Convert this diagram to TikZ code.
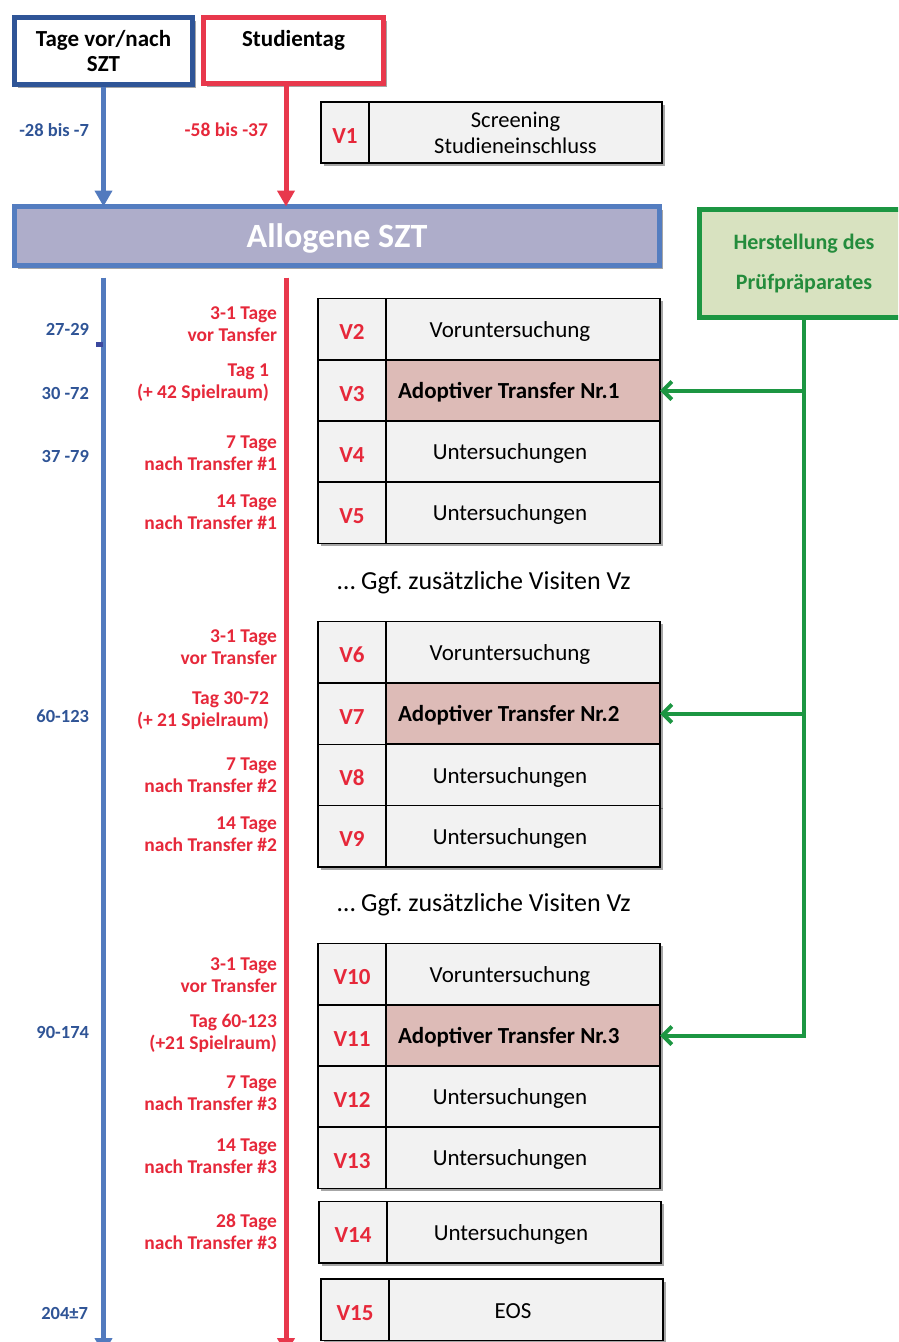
\documentclass[tikz,border=0pt]{standalone}
\usepackage{fontspec}
\setmainfont{Carlito}
\usetikzlibrary{positioning,arrows.meta,shadows}

\definecolor{hdrblue}{RGB}{47,85,151}
\definecolor{lineblue}{RGB}{82,122,190}
\definecolor{txtblue}{RGB}{47,84,150}
\definecolor{tickblue}{RGB}{59,72,158}
\definecolor{szred}{RGB}{232,56,76}
\definecolor{txtred}{RGB}{230,40,58}
\definecolor{allofill}{RGB}{174,173,202}
\definecolor{allodraw}{RGB}{84,125,192}
\definecolor{grndraw}{RGB}{28,150,66}
\definecolor{grnfill}{RGB}{216,226,192}
\definecolor{grntxt}{RGB}{36,140,60}
\definecolor{pinkfill}{RGB}{221,187,183}
\definecolor{cellgray}{RGB}{242,242,242}

\begin{document}
\begin{tikzpicture}[x=1pt,y=-1pt,
    every node/.style={inner sep=0pt,outer sep=0pt},
    box shadow/.style={drop shadow={shadow xshift=3pt,shadow yshift=-3pt,opacity=0.35,fill=black}},
    cell text/.style={font=\fontsize{23}{26}\selectfont},
    bold cell text/.style={font=\fontsize{23}{26}\selectfont\bfseries},
    head box/.style={draw,line width=5pt,fill=white,align=center,
                     font=\fontsize{23}{25}\selectfont\bfseries,box shadow},
    id cell/.style={draw,line width=1.5pt,fill=cellgray,minimum width=68pt,minimum height=61.5pt,
                    text height=21pt,text depth=0pt,text=txtred,bold cell text,box shadow},
    info cell/.style={draw,line width=1.5pt,fill=cellgray,minimum width=274pt,minimum height=61.5pt,
                      cell text,box shadow},
    plain cell/.style={label={[xshift=-13pt,yshift=-2pt,cell text]center:\txt}},
    transfer cell/.style={fill=pinkfill,line width=2pt,
                          label={[anchor=west,xshift=12pt,yshift=-2pt,bold cell text]west:\txt}},
    day label/.style={anchor=east,align=right,text=txtred,font=\fontsize{19.5}{22}\selectfont\bfseries},
    szt label/.style={anchor=east,align=right,text=txtblue,font=\fontsize{18.5}{22}\selectfont\bfseries},
    blue line/.style={draw=lineblue,line width=5pt,-{Triangle[width=17pt,length=16pt]}},
    red line/.style={draw=szred,line width=5pt,-{Triangle[width=17pt,length=16pt]}},
    green arrow/.style={draw=grndraw,line width=4pt,-{Straight Barb[length=9pt,width=18pt]}}]

  \useasboundingbox (0,0) rectangle (898,1342);
  \clip (0,0) rectangle (898,1342);

  % headers
  \node[head box,draw=hdrblue,minimum width=178pt,minimum height=67pt] (tage) at (103.5,51) {Tage vor/nach\\SZT};
  \node[head box,draw=szred,minimum width=180pt,minimum height=66pt,text depth=25pt] (studientag) at (293.5,50.5) {Studientag};

  \node[draw=allodraw,line width=5pt,fill=allofill,minimum width=645pt,minimum height=59pt,text depth=0pt,
        text=white,font=\fontsize{34}{36}\selectfont\bfseries,box shadow] (allo) at (337,236) {Allogene SZT};

  \node[draw=grndraw,line width=5pt,fill=grnfill,minimum width=210pt,minimum height=108pt,align=center,
        text=grntxt,font=\fontsize{22}{40}\selectfont\bfseries] (herst) at (804,263.5) {Herstellung des\\Prüfpräparates};

  % screening
  \node[id cell,minimum width=48pt,minimum height=61pt] (v1) at (345,132.5) {V1};
  \node[info cell,minimum width=293pt,minimum height=61pt,align=center,
        font=\fontsize{22.5}{26}\selectfont,right=0pt of v1] (info1) {Screening\\Studieneinschluss};

  % visits
  \foreach \n/\x/\y/\kind/\txt in {2/352/329/plain cell/Voruntersuchung,
      3/352/390.5/transfer cell/Adoptiver Transfer Nr.1,
      4/352/451.5/plain cell/Untersuchungen,
      5/352/512.5/plain cell/Untersuchungen,
      6/352/652/plain cell/Voruntersuchung,
      7/352/713.5/transfer cell/Adoptiver Transfer Nr.2,
      8/352/775/plain cell/Untersuchungen,
      9/352/836/plain cell/Untersuchungen,
      10/352/974/plain cell/Voruntersuchung,
      11/352/1035.5/transfer cell/Adoptiver Transfer Nr.3,
      12/352/1096.5/plain cell/Untersuchungen,
      13/352/1157.5/plain cell/Untersuchungen,
      14/353/1232/plain cell/Untersuchungen,
      15/355/1309.5/plain cell/EOS}
  {
    \node[id cell] (v\n) at (\x,\y) {V\n};
    \node[info cell,right=0pt of v\n,\kind] (info\n) {};
  }

  \node[font=\fontsize{26}{28}\selectfont] (more1) at (484,583) {… Ggf.\ zusätzliche Visiten Vz};
  \node[font=\fontsize{26}{28}\selectfont] (more2) at (484,905) {… Ggf.\ zusätzliche Visiten Vz};

  % timelines
  \coordinate (blue end) at (103.5,1354);
  \coordinate (red end) at (286,1354);
  \draw[blue line,shorten <=2.5pt] (tage.south) -- (tage.south |- allo.north);
  \draw[red line,shorten <=2.5pt] (studientag.south -| red end) -- (allo.north -| red end);
  \draw[blue line,shorten <=12pt] (allo.south -| blue end) -- (blue end);
  \draw[red line,shorten <=12pt] (allo.south -| red end) -- (red end);
  \node[fill=tickblue,minimum width=7pt,minimum height=5pt] (tick) at (99.5,344.5) {};

  % days after SZT
  \node[szt label] (s0) at (89,130) {-28 bis -7};
  \node[szt label] (s2) at (89,329) {27-29};
  \node[szt label] (s3) at (89,393) {30 -72};
  \node[szt label] (s4) at (89,456) {37 -79};
  \node[szt label] (s7) at (89,716) {60-123};
  \node[szt label] (s11) at (89,1032) {90-174};
  \node[szt label] (s15) at (88,1313) {204±7};

  % study days
  \node[day label] (d1) at (268,130) {-58 bis -37};
  \node[day label] (d2) at (277,324) {3-1 Tage\\vor Tansfer};
  \node[day label] (d3) at (269,383) {Tag 1\\(+ 42 Spielraum)};
  \node[day label] (d4) at (277,453) {7 Tage\\nach Transfer \#1};
  \node[day label] (d5) at (277,512) {14 Tage\\nach Transfer \#1};
  \node[day label] (d6) at (277,647) {3-1 Tage\\vor Transfer};
  \node[day label] (d7) at (269,711) {Tag 30-72\\(+ 21 Spielraum)};
  \node[day label] (d8) at (277,775) {7 Tage\\nach Transfer \#2};
  \node[day label] (d9) at (277,834) {14 Tage\\nach Transfer \#2};
  \node[day label] (d10) at (277,975) {3-1 Tage\\vor Transfer};
  \node[day label] (d11) at (277,1033) {Tag 60-123\\(+21 Spielraum)};
  \node[day label] (d12) at (277,1093) {7 Tage\\nach Transfer \#3};
  \node[day label] (d13) at (277,1156) {14 Tage\\nach Transfer \#3};
  \node[day label] (d14) at (277,1231.5) {28 Tage\\nach Transfer \#3};

  % supply of the product
  \draw[green arrow] (herst.south) |- (info11.east);
  \draw[green arrow] (herst.south |- info3.east) -- (info3.east);
  \draw[green arrow] (herst.south |- info7.east) -- (info7.east);

\end{tikzpicture}
\end{document}
